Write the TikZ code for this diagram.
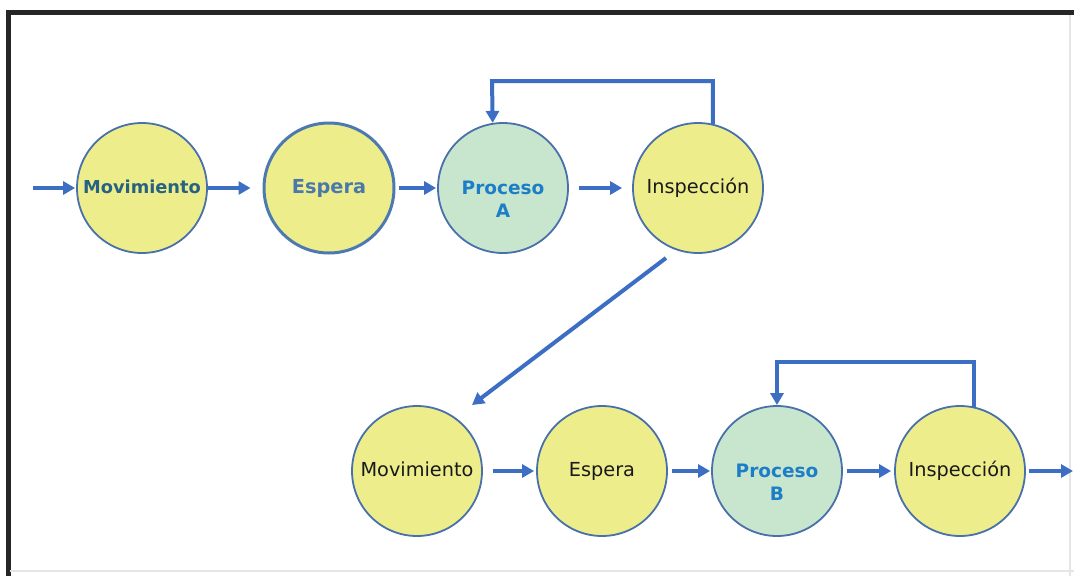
\documentclass[tikz,border=0pt]{standalone}
\usepackage{fontspec}
\setmainfont{DejaVu Sans}
\usetikzlibrary{arrows.meta}

\definecolor{yelfill}{RGB}{238,237,140}
\definecolor{grnfill}{RGB}{200,229,206}
\definecolor{ringblue}{RGB}{72,112,170}
\definecolor{ringthick}{RGB}{76,122,176}
\definecolor{flowblue}{RGB}{60,110,196}
\definecolor{tealtext}{RGB}{38,98,130}
\definecolor{steeltext}{RGB}{74,120,170}
\definecolor{proctext}{RGB}{28,126,198}
\definecolor{inktext}{RGB}{25,25,25}

\begin{document}
\begin{tikzpicture}[x=1pt,y=-1pt,
  station/.style={circle, minimum size=130pt, inner sep=0pt, draw=ringblue,
    line width=1.8pt, fill=yelfill, align=center, text=inktext,
    text height=13.5pt, text depth=3pt,
    font=\fontsize{19.3}{23}\selectfont},
  procstation/.style={station, fill=grnfill},
  waitbold/.style={station, draw=ringthick, line width=3pt},
  proclabel/.style={align=center, text=proctext, inner sep=0pt,
    font=\fontsize{18.5}{23}\selectfont\bfseries},
  flow/.style={draw=flowblue, line width=4pt,
    -{Triangle[length=12pt,width=13pt]}},
]
\useasboundingbox (0,0) rectangle (1074,576);

% page frame
\draw[black!85, line width=5pt] (8,576) -- (8,12.5) -- (1074,12.5);
\draw[black!10, line width=1.5pt] (1070,15) -- (1070,576);
\draw[black!10, line width=1.5pt] (10,571) -- (1074,571);

% first line: stations
\node[station, text=tealtext, font=\fontsize{17.8}{21}\selectfont\bfseries]
  (mov1) at (142,188) {Movimiento};
\node[waitbold, text=steeltext, font=\fontsize{19.3}{23}\selectfont\bfseries]
  (esp1) at (329,188) {Espera};
\node[procstation] (proA) at (503,188) {};
\node[proclabel] (proAtxt) at ([yshift=-11.5pt]proA.center) {Proceso\\A};
\node[station] (ins1) at (698,188) {Inspección};

% second line: stations
\node[station] (mov2) at (417,471) {Movimiento};
\node[station] (esp2) at (602,471) {Espera};
\node[procstation] (proB) at (777,471) {};
\node[proclabel] (proBtxt) at ([yshift=-11.5pt]proB.center) {Proceso\\B};
\node[station] (ins2) at (960,471) {Inspección};

% free ends
\coordinate (inlet) at (33,188);
\coordinate (outlet) at (1073,471);
\coordinate (dropA) at (666,258);
\coordinate (dropB) at (472,405);
\coordinate (loopA) at (492,81);
\coordinate (loopB) at (777,362);

% first line: flow
\draw[flow, shorten >=1pt] (inlet) -- (mov1);
\draw[flow, shorten >=12pt] (mov1) -- (esp1);
\draw[flow, shorten <=3pt, shorten >=1pt] (esp1) -- (proA);
\draw[flow, shorten <=10pt, shorten >=10pt] (proA) -- (ins1);
\draw[flow] (ins1.77.6) |- (loopA) -- (proA.99.7);

% link between lines
\draw[flow] (dropA) -- (dropB);

% second line: flow
\draw[flow, shorten <=10pt, shorten >=2pt] (mov2) -- (esp2);
\draw[flow, shorten <=4pt, shorten >=1pt] (esp2) -- (proB);
\draw[flow, shorten <=4pt, shorten >=3pt] (proB) -- (ins2);
\draw[flow, shorten <=3pt] (ins2) -- (outlet);
\draw[flow] (ins2.78.5) |- (loopB) -- (proB.north);
\end{tikzpicture}
\end{document}
